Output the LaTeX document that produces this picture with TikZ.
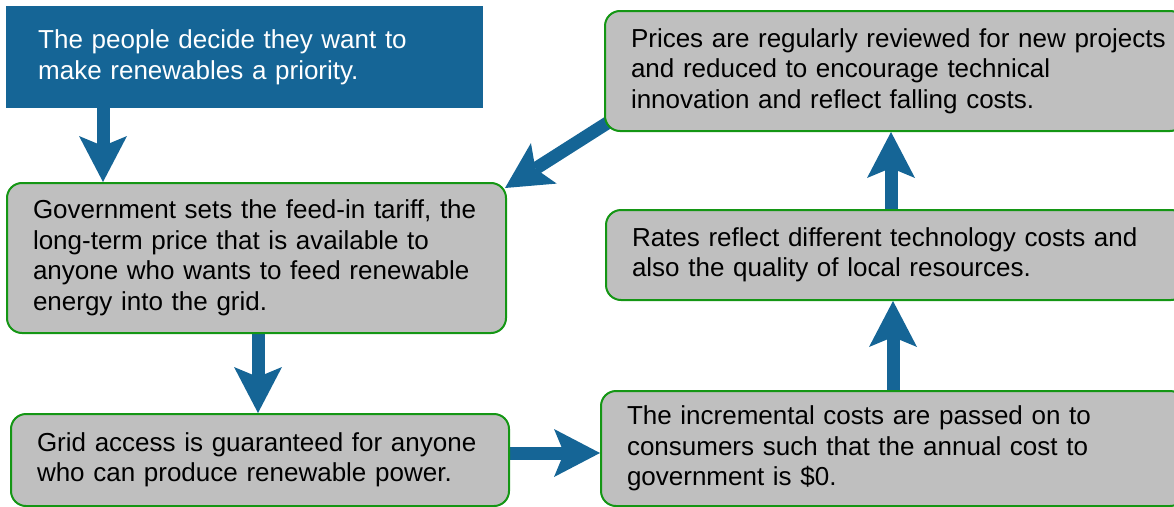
\documentclass[tikz,border=0pt]{standalone}
\usepackage{fontspec}
\setmainfont{Liberation Sans}
\usetikzlibrary{arrows.meta,backgrounds}
\definecolor{boxblue}{RGB}{21,101,150}
\definecolor{boxgray}{RGB}{191,191,191}
\definecolor{boxgreen}{RGB}{20,150,20}
\tikzset{
  txt/.style={font=\fontsize{26pt}{30.5pt}\selectfont, align=left, anchor=north west, rectangle},
  graybox/.style={txt, fill=boxgray, draw=boxgreen, line width=2pt, rounded corners=15pt, inner xsep=26pt, text=black},
  bluebox/.style={txt, fill=boxblue, text=white, inner xsep=32pt},
  bigarrow/.style={draw=boxblue, line width=13pt,
    -{Stealth[length=46pt, width=48pt, inset=10pt, line width=0pt, color=boxblue]}}
}
\begin{document}
\begin{tikzpicture}[x=1pt,y=-1pt]
\useasboundingbox (0,0) rectangle (1174,506);
\clip (0,0) rectangle (1174,506);
\node[bluebox, text width=413pt, minimum height=102pt] (top) at (6,6)
  {\mbox{The people decide they want to}\\\mbox{make renewables a priority.}};
\node[graybox, text width=447pt, minimum height=150pt] (gov) at (6,182)
  {\mbox{Government sets the feed-in tariff, the}\\\mbox{long-term price that is available to}\\\mbox{anyone who wants to feed renewable}\\\mbox{energy into the grid.}};
\node[graybox, text width=446pt, minimum height=92pt] (grid) at (10,413)
  {\mbox{Grid access is guaranteed for anyone}\\\mbox{who can produce renewable power.}};
\node[graybox, text width=528pt, minimum height=120pt] (prices) at (604,10)
  {\mbox{Prices are regularly reviewed for new projects}\\\mbox{and reduced to encourage technical}\\\mbox{innovation and reflect falling costs.}};
\node[graybox, text width=528pt, minimum height=90pt] (rates) at (605,209)
  {\mbox{Rates reflect different technology costs and}\\\mbox{also the quality of local resources.}};
\node[graybox, text width=532pt, minimum height=115pt] (incr) at (600,390)
  {\mbox{The incremental costs are passed on to}\\\mbox{consumers such that the annual cost to}\\\mbox{government is \$0.}};
\begin{scope}[on background layer]
\draw[bigarrow] ([xshift=97pt]top.south west) -- ([xshift=97pt]top.south west |- gov.north);
\draw[bigarrow] ([xshift=252pt]gov.south west) -- ([xshift=252pt]gov.south west |- grid.north);
\draw[bigarrow] ([yshift=7pt]grid.east) -- ([yshift=7pt]grid.east -| incr.west);
\draw[bigarrow] ([xshift=293pt]incr.north west) -- ([xshift=293pt]incr.north west |- rates.south);
\draw[bigarrow] ([xshift=286pt]rates.north west) -- ([xshift=286pt]rates.north west |- prices.south);
\draw[bigarrow] ([shift={(8pt,12pt)}]prices.south west) -- ([shift={(-2pt,-6pt)}]gov.north east);
\end{scope}
\end{tikzpicture}
\end{document}
